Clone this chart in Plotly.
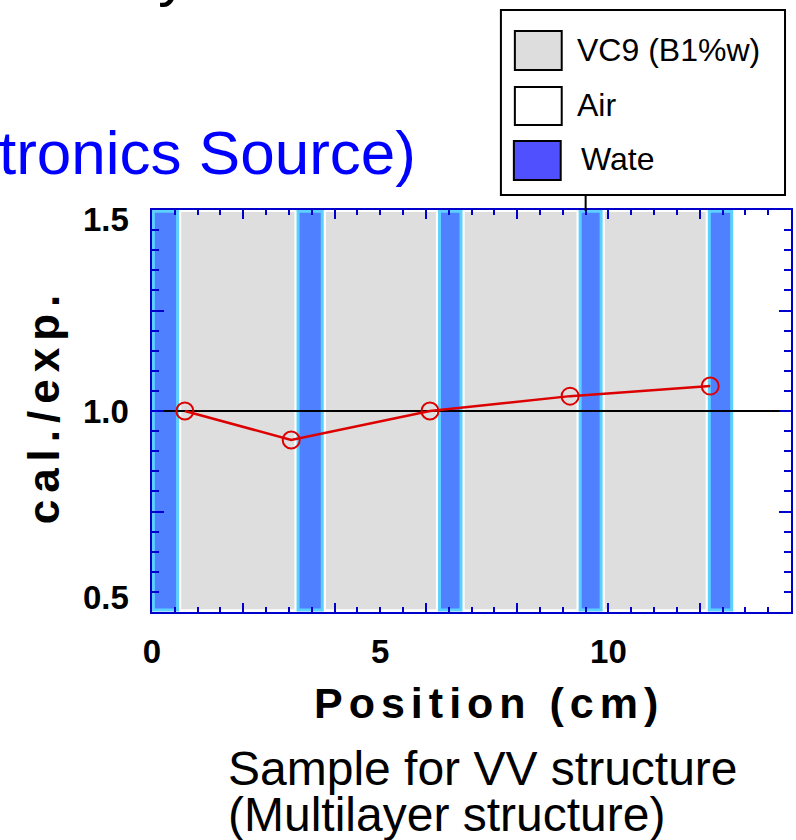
import plotly.graph_objects as go

# ---- data ----
positions = [0.72, 3.05, 6.09, 9.16, 12.23]
ratios = [1.0, 0.928, 1.0, 1.037, 1.062]
water_start = [0.0, 3.17, 6.27, 9.35, 12.18]
water_end = [0.59, 3.76, 6.80, 9.87, 12.73]
vc9_start = [0.64, 3.81, 6.85, 9.92]
vc9_end = [3.12, 6.22, 9.30, 12.13]
x_tick_vals = [0, 5, 10]
x_tick_text = ["0", "5", "10"]
x_major_vals = [2, 4, 6, 8, 10, 12]
y_tick_vals = [0.5, 1.0, 1.5]
y_tick_text = ["0.5", "1.0", "1.5"]
legend_labels = ["VC9 (B1%w)", "Air", "Wate"]
legend_colors = ["#DDDDDD", "#FFFFFF", "#5050FF"]

# ---- layout geometry (pixels) ----
W, H = 796, 840
L, R, T, B = 152, 3, 210, 228
PW, PH = W - L - R, H - T - B
FONT = "Liberation Sans, Arial, sans-serif"
AXC = "#0000CC"


def px_x(p):
    return (p - L) / PW


def px_y(p):
    return (H - B - p) / PH


fig = go.Figure()

# reference line at 1.0
fig.add_trace(go.Scatter(x=[0, 14], y=[1.0, 1.0], mode="lines",
                         line=dict(color="black", width=2), hoverinfo="skip",
                         showlegend=False))
# data series
fig.add_trace(go.Scatter(x=positions, y=ratios, mode="lines+markers",
                         line=dict(color="#DD0000", width=2.5),
                         marker=dict(symbol="circle-open", size=17,
                                     line=dict(color="#DD0000", width=2)),
                         showlegend=False))
# dummy trace for second x-axis (long ticks)
fig.add_trace(go.Scatter(x=[0, 14], y=[1, 1], xaxis="x2", mode="lines",
                         line=dict(width=0), hoverinfo="skip", showlegend=False))

shapes = []
for s, e in zip(vc9_start, vc9_end):
    shapes.append(dict(type="rect", xref="x", yref="y", x0=s, x1=e, y0=0.507, y1=1.495,
                       fillcolor="#DEDEDE", line=dict(width=0), layer="below"))
for s, e in zip(water_start, water_end):
    shapes.append(dict(type="rect", xref="x", yref="y", x0=s + 0.03, x1=e - 0.03,
                       y0=0.505, y1=1.497, fillcolor="#4F80FF",
                       line=dict(color="#5CD0FF", width=3), layer="below"))

# legend box
shapes.append(dict(type="rect", xref="paper", yref="paper",
                   x0=px_x(502), x1=px_x(787), y0=px_y(195), y1=px_y(10),
                   fillcolor="white", line=dict(color="black", width=2)))
shapes.append(dict(type="line", xref="paper", yref="paper",
                   x0=px_x(587), x1=px_x(587), y0=px_y(195), y1=px_y(211),
                   line=dict(color="black", width=2)))
sw_y = [(31, 70), (87, 125), (141, 180)]
sw_x = [(516, 563), (516, 563), (515, 562)]
for (y0, y1), (x0, x1), c in zip(sw_y, sw_x, legend_colors):
    shapes.append(dict(type="rect", xref="paper", yref="paper",
                       x0=px_x(x0), x1=px_x(x1), y0=px_y(y1), y1=px_y(y0),
                       fillcolor=c, line=dict(color="black", width=2)))

annotations = []
lab_pos = [(576, 50), (576, 105), (580, 159)]
for (x, y), t in zip(lab_pos, legend_labels):
    annotations.append(dict(xref="paper", yref="paper", x=px_x(x), y=px_y(y),
                            xanchor="left", yanchor="middle", text=t, showarrow=False,
                            font=dict(family=FONT, size=32, color="black")))

# y tick labels (drawn inside the frame range like the original)
y_label_shift = {0.5: -15, 1.0: 0, 1.5: 9}
for v, t in zip(y_tick_vals, y_tick_text):
    annotations.append(dict(xref="paper", yref="y", x=px_x(131),
                            y=v - y_label_shift[v] / PH, xanchor="right", yanchor="middle",
                            text=f"<b>{t}</b>", showarrow=False,
                            font=dict(family=FONT, size=33, color="black")))

# axis titles
annotations.append(dict(xref="paper", yref="paper", x=px_x(490), y=px_y(703),
                        xanchor="center", yanchor="middle", showarrow=False,
                        text='<span style="letter-spacing:6px"><b>Position (cm)</b></span>',
                        font=dict(family=FONT, size=43, color="black")))
annotations.append(dict(xref="paper", yref="paper", x=px_x(43), y=px_y(406),
                        xanchor="center", yanchor="middle", showarrow=False, textangle=-90,
                        text='<span style="letter-spacing:7px"><b>cal./exp.</b></span>',
                        font=dict(family=FONT, size=44, color="black")))
# caption
annotations.append(dict(xref="paper", yref="paper", x=px_x(226), y=px_y(768),
                        xanchor="left", yanchor="middle", showarrow=False,
                        text="Sample for VV structure",
                        font=dict(family=FONT, size=48, color="black")))
annotations.append(dict(xref="paper", yref="paper", x=px_x(226), y=px_y(814),
                        xanchor="left", yanchor="middle", showarrow=False,
                        text="(Multilayer structure)",
                        font=dict(family=FONT, size=48, color="black")))
# cut-off title fragments
annotations.append(dict(xref="paper", yref="paper", x=px_x(419), y=px_y(153),
                        xanchor="right", yanchor="middle", showarrow=False,
                        text="tronics Source)",
                        font=dict(family=FONT, size=62, color="#0000FF")))
annotations.append(dict(xref="paper", yref="paper", x=px_x(174), y=px_y(-27),
                        xanchor="center", yanchor="middle", showarrow=False,
                        text="y",
                        font=dict(family=FONT, size=62, color="black")))

fig.update_layout(
    width=W, height=H,
    margin=dict(l=L, r=R, t=T, b=B),
    paper_bgcolor="white", plot_bgcolor="white",
    shapes=shapes, annotations=annotations,
    showlegend=False,
    xaxis=dict(range=[0, 14], tickvals=x_tick_vals, ticktext=x_tick_text,
               ticks="inside", ticklen=5, tickwidth=2, tickcolor=AXC,
               showline=True, linecolor=AXC, linewidth=2, mirror="ticks",
               showgrid=False, zeroline=False, ticklabelstandoff=9,
               tickfont=dict(family=FONT, size=33, color="black", weight="bold"),
               minor=dict(dtick=0.5, tick0=0, ticks="inside", ticklen=5,
                          tickwidth=2, tickcolor=AXC, showgrid=False)),
    xaxis2=dict(range=[0, 14], overlaying="x", anchor="y", side="bottom",
                tickvals=x_major_vals, showticklabels=False,
                ticks="inside", ticklen=9, tickwidth=2, tickcolor=AXC,
                showline=False, mirror="ticks", showgrid=False, zeroline=False),
    yaxis=dict(range=[0.5, 1.5], tickvals=[0.5, 0.75, 1.0, 1.25, 1.5],
               showticklabels=False,
               ticks="inside", ticklen=12, tickwidth=2, tickcolor=AXC,
               showline=True, linecolor=AXC, linewidth=2, mirror="ticks",
               showgrid=False, zeroline=False,
               minor=dict(dtick=0.05, tick0=0.5, ticks="inside", ticklen=7,
                          tickwidth=2, tickcolor=AXC, showgrid=False)),
)

fig.write_html("out.html")
